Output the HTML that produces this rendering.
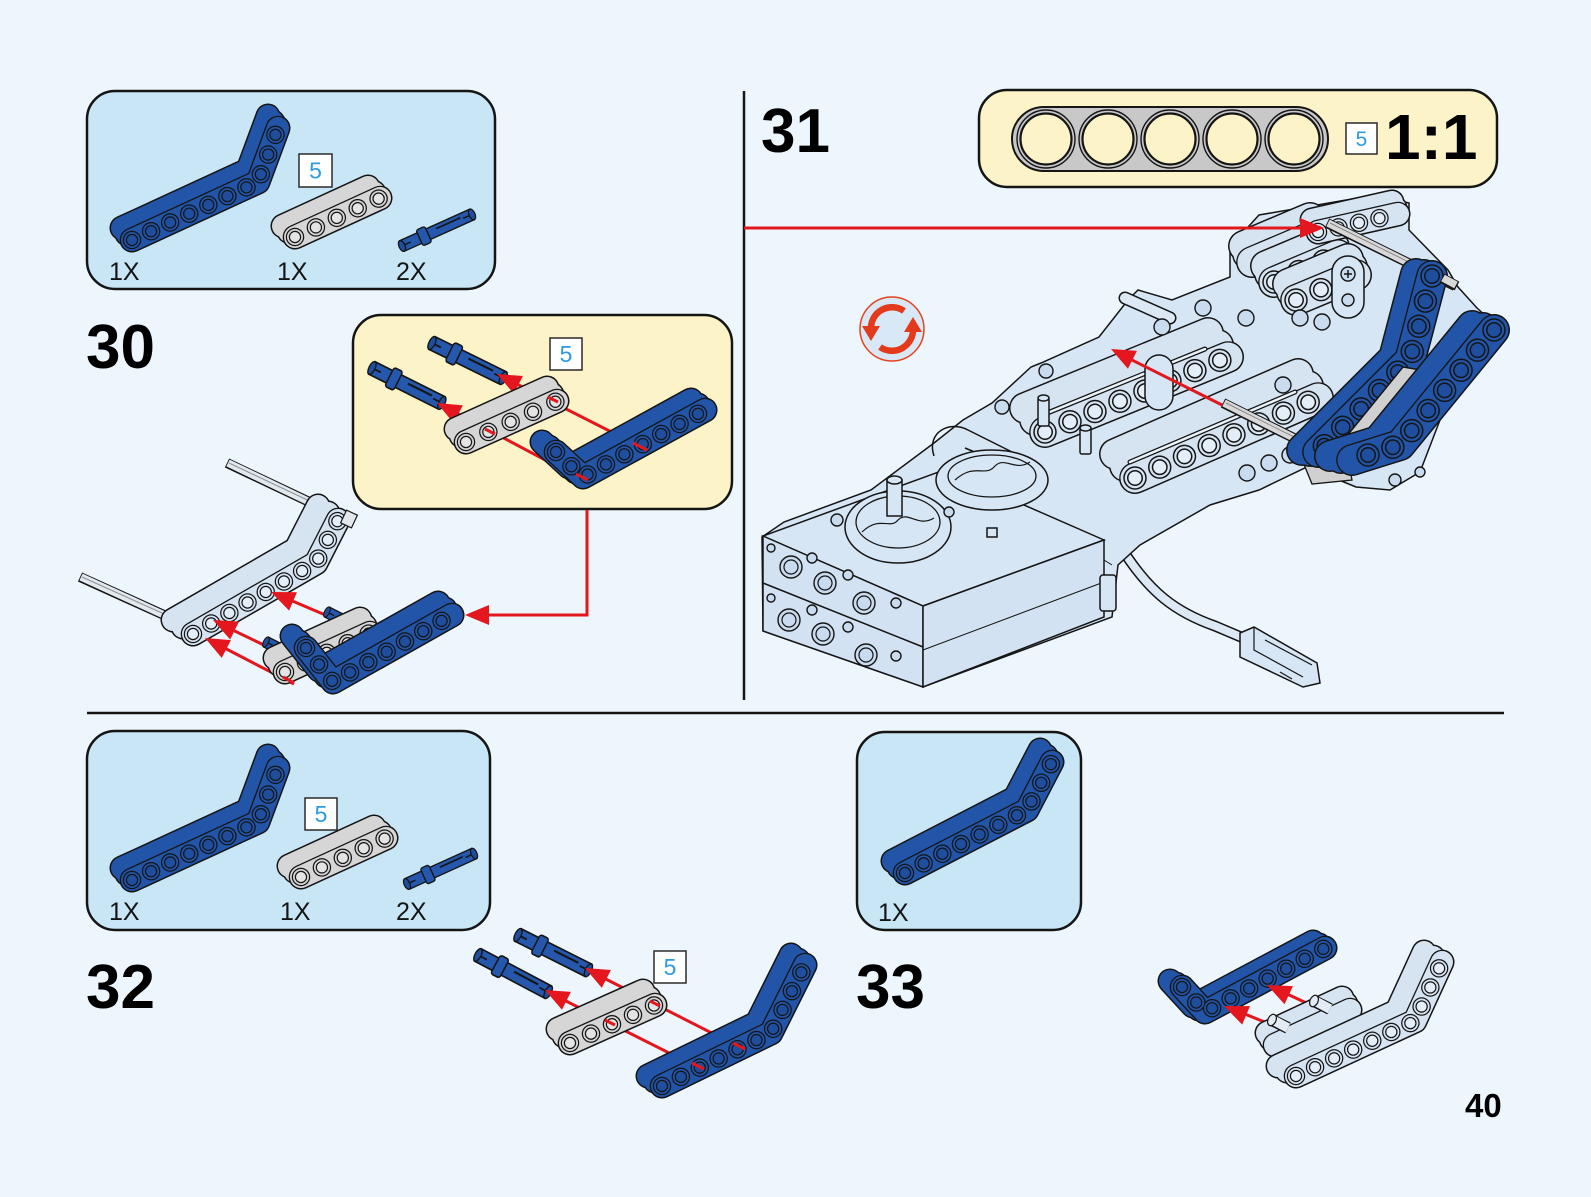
<!DOCTYPE html>
<html><head><meta charset="utf-8">
<style>
html,body{margin:0;padding:0;background:#eef6fd;overflow:hidden}
svg{display:block}
text{font-family:"Liberation Sans",Arial,sans-serif}
.bm use{fill:none;stroke-linecap:round;stroke-linejoin:round}
.o{stroke:#151515;stroke-width:25}
.f{stroke-width:22}
.fo{stroke:#151515;stroke-width:24.6}
.h1{stroke:#151515;stroke-width:18.5;stroke-dasharray:0 var(--s,21)}
.h2{stroke-width:16;stroke-dasharray:0 var(--s,21)}
.h3{stroke:#151515;stroke-width:12.4;stroke-dasharray:0 var(--s,21)}
.h4{stroke-width:10;stroke-dasharray:0 var(--s,21)}
.L .o{stroke-width:32}
.L .f{stroke-width:29}
.L .fo{stroke-width:31.6}
.L .h1{stroke-width:23.5;stroke-dasharray:0 var(--s,27)}
.L .h2{stroke-width:20.5;stroke-dasharray:0 var(--s,27)}
.L .h3{stroke-width:16;stroke-dasharray:0 var(--s,27)}
.L .h4{stroke-width:13;stroke-dasharray:0 var(--s,27)}
.B .f,.B .h2{stroke:#2254a8}
.B .h4{stroke:#1f4e9f}
.G .f,.G .h2{stroke:#d6d6d6}
.G .h4{stroke:#e4e4e4}
.P .f,.P .h2{stroke:#d6e4f2}
.P .h4{stroke:#e4eef8}
.rl{stroke:#e3171d;stroke-width:3;fill:none}
.pl{fill:#d7e6f5;stroke:#151515;stroke-width:1.5}
.hl{fill:#c9dbee;stroke:#151515;stroke-width:1.4}
</style></head>
<body>
<svg width="1591" height="1197" viewBox="0 0 1591 1197" xmlns="http://www.w3.org/2000/svg">
<rect width="1591" height="1197" fill="#eef6fd"/>
<defs>
<polyline id="b30p" points="132,240 258,182 278,128"/>
<polyline id="g30p" points="295,237 380,198"/>
<polyline id="b32p" points="132,880 258,822 278,768"/>
<polyline id="g32p" points="301,877 386,838"/>
<polyline id="b33p" points="905,873 1027,810 1052,762"/>
<polyline id="c30g" points="466,442 557,401"/>
<polyline id="c30b" points="556,452 583,477 705,410"/>
<polyline id="a30l" points="193,634 316,563 338,520"/>
<polyline id="a30g" points="285,672 370,633"/>
<polyline id="a30b" points="306,648 333,682 452,615"/>
<polyline id="s32g" points="570,1043 655,1005"/>
<polyline id="s32b" points="662,1086 771,1033 805,965"/>
<polyline id="s33b" points="1182,987 1205,1012 1325,948"/>
<polyline id="s33g" points="1275,1045 1350,1010"/>
<polyline id="s33l" points="1296,1076 1415,1021 1442,962"/>
<polyline id="slA" points="1045,432 1228,357"/>
<polyline id="slB" points="1135,478 1318,398"/>
<polyline id="clb" points="1318,232 1398,214"/>
<polyline id="cA" points="1252,262 1318,234"/>
<polyline id="cB" points="1274,282 1338,255"/>
<polyline id="cC" points="1296,300 1356,275"/>
<polyline id="bl1" points="1432,276 1410,360 1318,452"/>
<polyline id="bl2" points="1494,330 1400,445 1352,460"/>
<path id="ah" d="M0,0 L24,-10 L24,10 Z" fill="#e3171d"/>
<g id="pin">
<rect x="0" y="-5" width="64" height="10" fill="#2558ad" stroke="#151515" stroke-width="1.2"/>
<rect x="16" y="-7.5" width="8" height="15" rx="2" fill="#2558ad" stroke="#151515" stroke-width="1.2"/>
<line x1="32" y1="-1.5" x2="54" y2="-1.5" stroke="#151515" stroke-width="1.5"/>
<line x1="0" y1="0" x2="8" y2="0" stroke="#151515" stroke-width="1.3"/>
<line x1="56" y1="0" x2="64" y2="0" stroke="#151515" stroke-width="1.3"/>
<ellipse cx="64" cy="0" rx="2.5" ry="5" fill="#1f4e9f" stroke="#151515" stroke-width="1.1"/>
<ellipse cx="0" cy="0" rx="2.5" ry="5" fill="#1f4e9f" stroke="#151515" stroke-width="1.1"/>
</g>
</defs>

<!-- dividers -->
<line x1="744" y1="91" x2="744" y2="700" stroke="#151515" stroke-width="2.5"/>
<line x1="87" y1="713" x2="1504" y2="713" stroke="#151515" stroke-width="2.5"/>

<!-- ===== STEP 30 parts box ===== -->
<rect x="87" y="91" width="408" height="198" rx="28" fill="#c8e6f5" stroke="#151515" stroke-width="2.5"/>
<g class="bm B"><use href="#b30p" class="o" x="-10" y="-12"/><use href="#b30p" class="o" x="-5" y="-6"/><use href="#b30p" class="o"/><use href="#b30p" class="f" x="-10" y="-12"/><use href="#b30p" class="f" x="-5" y="-6"/><use href="#b30p" class="f"/><use href="#b30p" class="fo"/><use href="#b30p" class="f"/><use href="#b30p" class="h1"/><use href="#b30p" class="h2"/><use href="#b30p" class="h3"/><use href="#b30p" class="h4"/></g>
<g class="bm G" style="--s:23"><use href="#g30p" class="o" x="-12" y="-11"/><use href="#g30p" class="o" x="-6" y="-5.5"/><use href="#g30p" class="o"/><use href="#g30p" class="f" x="-12" y="-11"/><use href="#g30p" class="f" x="-6" y="-5.5"/><use href="#g30p" class="f"/><use href="#g30p" class="fo"/><use href="#g30p" class="f"/><use href="#g30p" class="h1"/><use href="#g30p" class="h2"/><use href="#g30p" class="h3"/><use href="#g30p" class="h4"/></g>
<use href="#pin" transform="translate(402,246) rotate(-24.3) scale(1.2,1.15)"/>
<rect x="299" y="154" width="33" height="33" fill="#fff" stroke="#2a2a2a" stroke-width="1.5"/>
<text x="315.5" y="178.5" font-size="23" fill="#2d9be0" text-anchor="middle">5</text>
<text x="109" y="280" font-size="25" fill="#151515">1X</text>
<text x="277" y="280" font-size="25" fill="#151515">1X</text>
<text x="396" y="280" font-size="25" fill="#151515">2X</text>

<text x="86" y="368" font-size="62" font-weight="bold" fill="#000">30</text>

<!-- ===== STEP 30 callout ===== -->
<rect x="353" y="315" width="379" height="194" rx="28" fill="#fdf3c8" stroke="#151515" stroke-width="2.5"/>
<use href="#pin" transform="translate(432,343) rotate(26.2) scale(1.24,1.4)"/>
<use href="#pin" transform="translate(372,368) rotate(26.6) scale(1.22,1.4)"/>
<line class="rl" x1="647" y1="450" x2="505" y2="378"/>
<line class="rl" x1="583" y1="480" x2="445" y2="407"/>
<use href="#ah" transform="translate(497,374) rotate(26.9)"/>
<use href="#ah" transform="translate(437,403) rotate(27.8)"/>
<g class="bm G" style="--s:24.5"><use href="#c30g" class="o" x="-10" y="-13"/><use href="#c30g" class="o" x="-5" y="-6.5"/><use href="#c30g" class="o"/><use href="#c30g" class="f" x="-10" y="-13"/><use href="#c30g" class="f" x="-5" y="-6.5"/><use href="#c30g" class="f"/><use href="#c30g" class="fo"/><use href="#c30g" class="f"/><use href="#c30g" class="h1"/><use href="#c30g" class="h2"/><use href="#c30g" class="h3"/><use href="#c30g" class="h4"/></g>
<g class="bm B"><use href="#c30b" class="o" x="-14" y="-10"/><use href="#c30b" class="o" x="-7" y="-5"/><use href="#c30b" class="o"/><use href="#c30b" class="f" x="-14" y="-10"/><use href="#c30b" class="f" x="-7" y="-5"/><use href="#c30b" class="f"/><use href="#c30b" class="fo"/><use href="#c30b" class="f"/><use href="#c30b" class="h1"/><use href="#c30b" class="h2"/><use href="#c30b" class="h3"/><use href="#c30b" class="h4"/></g>
<line class="rl" x1="633" y1="443" x2="647" y2="450"/>
<line class="rl" x1="576" y1="474" x2="588" y2="480"/>
<line class="rl" x1="548" y1="397" x2="558" y2="402"/>
<line class="rl" x1="485" y1="429" x2="495" y2="434"/>
<rect x="550" y="338" width="32" height="32" fill="#fff" stroke="#2a2a2a" stroke-width="1.5"/>
<text x="566" y="362" font-size="23" fill="#2d9be0" text-anchor="middle">5</text>

<!-- ===== STEP 30 assembly ===== -->
<g>
<line x1="227" y1="463" x2="320" y2="507" stroke="#151515" stroke-width="10"/>
<line x1="228" y1="463" x2="320" y2="507" stroke="#e2e8ee" stroke-width="7.5"/>
<line x1="229" y1="463" x2="318" y2="505" stroke="#8a9098" stroke-width="1"/>
<line x1="80" y1="577" x2="175" y2="620" stroke="#151515" stroke-width="10"/>
<line x1="81" y1="577" x2="175" y2="620" stroke="#e2e8ee" stroke-width="7.5"/>
<line x1="82" y1="577" x2="173" y2="618" stroke="#8a9098" stroke-width="1"/>
</g>
<g class="bm P"><use href="#a30l" class="o" x="-20" y="-14"/><use href="#a30l" class="o" x="-10" y="-7"/><use href="#a30l" class="o"/><use href="#a30l" class="f" x="-20" y="-14"/><use href="#a30l" class="f" x="-10" y="-7"/><use href="#a30l" class="f"/><use href="#a30l" class="fo"/><use href="#a30l" class="f"/><use href="#a30l" class="h1"/><use href="#a30l" class="h2"/><use href="#a30l" class="h3"/><use href="#a30l" class="h4"/></g>
<rect x="343" y="512" width="12" height="14" fill="#e2e8ee" stroke="#151515" stroke-width="1.2" transform="rotate(25 349 519)"/>
<line class="rl" x1="330" y1="617" x2="276" y2="594"/>
<line class="rl" x1="268" y1="647" x2="218" y2="623"/>
<line class="rl" x1="294" y1="684" x2="211" y2="641"/>
<use href="#ah" transform="translate(271,592) rotate(23.3)"/>
<use href="#ah" transform="translate(213,620) rotate(26.1)"/>
<use href="#ah" transform="translate(205,638) rotate(27.3)"/>
<use href="#pin" transform="translate(327,612) rotate(27) scale(1,1.1)"/>
<use href="#pin" transform="translate(266,642) rotate(27) scale(1,1.1)"/>
<g class="bm G" style="--s:23"><use href="#a30g" class="o" x="-10" y="-14"/><use href="#a30g" class="o" x="-5" y="-7"/><use href="#a30g" class="o"/><use href="#a30g" class="f" x="-10" y="-14"/><use href="#a30g" class="f" x="-5" y="-7"/><use href="#a30g" class="f"/><use href="#a30g" class="fo"/><use href="#a30g" class="f"/><use href="#a30g" class="h1"/><use href="#a30g" class="h2"/><use href="#a30g" class="h3"/><use href="#a30g" class="h4"/></g>
<line class="rl" x1="283" y1="677" x2="294" y2="683"/>
<g class="bm B"><use href="#a30b" class="o" x="-14" y="-12"/><use href="#a30b" class="o" x="-7" y="-6"/><use href="#a30b" class="o"/><use href="#a30b" class="f" x="-14" y="-12"/><use href="#a30b" class="f" x="-7" y="-6"/><use href="#a30b" class="f"/><use href="#a30b" class="fo"/><use href="#a30b" class="f"/><use href="#a30b" class="h1"/><use href="#a30b" class="h2"/><use href="#a30b" class="h3"/><use href="#a30b" class="h4"/></g>
<polyline class="rl" points="587,510 587,615 480,615"/>
<use href="#ah" transform="translate(465,615)"/>

<!-- ===== STEP 31 ===== -->
<text x="761" y="152" font-size="62" font-weight="bold" fill="#000">31</text>
<rect x="979" y="90" width="518" height="97" rx="28" fill="#fdf3c8" stroke="#151515" stroke-width="2.5"/>
<rect x="1012" y="107" width="316" height="64" rx="32" fill="#c8c8c8" stroke="#151515" stroke-width="2"/>
<g stroke="#151515">
<circle cx="1046" cy="139" r="29" fill="#c8c8c8" stroke-width="1.4"/><circle cx="1046" cy="139" r="25.5" fill="#fdf3c8" stroke-width="2.2"/>
<circle cx="1108" cy="139" r="29" fill="#c8c8c8" stroke-width="1.4"/><circle cx="1108" cy="139" r="25.5" fill="#fdf3c8" stroke-width="2.2"/>
<circle cx="1170" cy="139" r="29" fill="#c8c8c8" stroke-width="1.4"/><circle cx="1170" cy="139" r="25.5" fill="#fdf3c8" stroke-width="2.2"/>
<circle cx="1232" cy="139" r="29" fill="#c8c8c8" stroke-width="1.4"/><circle cx="1232" cy="139" r="25.5" fill="#fdf3c8" stroke-width="2.2"/>
<circle cx="1294" cy="139" r="29" fill="#c8c8c8" stroke-width="1.4"/><circle cx="1294" cy="139" r="25.5" fill="#fdf3c8" stroke-width="2.2"/>
</g>
<rect x="1346" y="123" width="31" height="31" fill="#fff" stroke="#2a2a2a" stroke-width="1.5"/>
<text x="1361.5" y="146" font-size="21" fill="#2d9be0" text-anchor="middle">5</text>
<text x="1385" y="159" font-size="64" font-weight="bold" fill="#000">1:1</text>

<!-- cable -->
<path d="M1124,552 C1150,592 1175,612 1215,626 L1248,640" fill="none" stroke="#151515" stroke-width="11"/>
<path d="M1124,552 C1150,592 1175,612 1215,626 L1248,640" fill="none" stroke="#dce8f4" stroke-width="8"/>

<!-- envelope -->
<polygon class="pl" points="762,537 784,522 871,490 934,443 963,420 992,403 1031,367 1041,363 1099,337 1128,300 1138,290 1172,300 1230,277 1230,247 1259,215 1375,195 1409,203 1409,230 1448,270 1458,287 1477,308 1488,318 1440,420 1420,472 1390,490 1356,487 1307,467 1259,490 1210,505 1140,545 1118,565 1112,617 923,687 763,631"/>

<!-- cluster -->
<g class="bm P L"><use href="#cA" class="o" x="-8" y="-16"/><use href="#cA" class="o" x="-4" y="-8"/><use href="#cA" class="o"/><use href="#cA" class="f" x="-8" y="-16"/><use href="#cA" class="f" x="-4" y="-8"/><use href="#cA" class="f"/><use href="#cA" class="fo"/><use href="#cA" class="f"/></g>
<g class="bm P L"><use href="#cB" class="o" x="-8" y="-16"/><use href="#cB" class="o" x="-4" y="-8"/><use href="#cB" class="o"/><use href="#cB" class="f" x="-8" y="-16"/><use href="#cB" class="f" x="-4" y="-8"/><use href="#cB" class="f"/><use href="#cB" class="fo"/><use href="#cB" class="f"/><use href="#cB" class="h1"/><use href="#cB" class="h2"/><use href="#cB" class="h3"/><use href="#cB" class="h4"/></g>
<g class="bm P"><use href="#clb" class="o" x="-6" y="-12"/><use href="#clb" class="o" x="-3" y="-6"/><use href="#clb" class="o"/><use href="#clb" class="f" x="-6" y="-12"/><use href="#clb" class="f" x="-3" y="-6"/><use href="#clb" class="f"/><use href="#clb" class="fo"/><use href="#clb" class="f"/><use href="#clb" class="h1"/><use href="#clb" class="h2"/><use href="#clb" class="h3"/><use href="#clb" class="h4"/></g>
<g class="bm P L"><use href="#cC" class="o" x="-8" y="-16"/><use href="#cC" class="o" x="-4" y="-8"/><use href="#cC" class="o"/><use href="#cC" class="f" x="-8" y="-16"/><use href="#cC" class="f" x="-4" y="-8"/><use href="#cC" class="f"/><use href="#cC" class="fo"/><use href="#cC" class="f"/><use href="#cC" class="h1"/><use href="#cC" class="h2"/><use href="#cC" class="h3"/><use href="#cC" class="h4"/></g>
<rect class="pl" x="1332" y="256" width="32" height="62" rx="16"/>
<circle class="hl" cx="1348" cy="274" r="7"/>
<path d="M1344,274 h8 M1348,270 v8" stroke="#151515" stroke-width="1.5"/>
<circle class="hl" cx="1348" cy="300" r="6"/>
<g class="hl">
<circle cx="1300" cy="318" r="8"/><circle cx="1322" cy="322" r="8"/>
</g>
<!-- axle 1 -->
<line x1="1327" y1="223" x2="1455" y2="286" stroke="#151515" stroke-width="10"/>
<line x1="1328" y1="223" x2="1455" y2="286" stroke="#d8d8d8" stroke-width="7.5"/>
<line x1="1330" y1="223" x2="1453" y2="284" stroke="#888" stroke-width="1"/>
<!-- pin top-left -->
<line x1="1125" y1="298" x2="1170" y2="318" stroke="#151515" stroke-width="13" stroke-linecap="round"/>
<line x1="1125" y1="298" x2="1170" y2="318" stroke="#dce8f4" stroke-width="10" stroke-linecap="round"/>

<!-- slabs -->
<g class="bm P L"><use href="#slA" class="o" x="-20" y="-24"/><use href="#slA" class="o" x="-10" y="-12"/><use href="#slA" class="o"/><use href="#slA" class="f" x="-20" y="-24"/><use href="#slA" class="f" x="-10" y="-12"/><use href="#slA" class="f"/><use href="#slA" class="fo"/><use href="#slA" class="f"/><use href="#slA" class="h1"/><use href="#slA" class="h2"/><use href="#slA" class="h3"/><use href="#slA" class="h4"/></g>
<line x1="1040" y1="416" x2="1205" y2="349" stroke="#151515" stroke-width="5" stroke-linecap="round"/>
<line x1="1040" y1="416" x2="1205" y2="349" stroke="#eaf2fa" stroke-width="2.5" stroke-linecap="round"/>
<g class="bm P L"><use href="#slB" class="o" x="-20" y="-24"/><use href="#slB" class="o" x="-10" y="-12"/><use href="#slB" class="o"/><use href="#slB" class="f" x="-20" y="-24"/><use href="#slB" class="f" x="-10" y="-12"/><use href="#slB" class="f"/><use href="#slB" class="fo"/><use href="#slB" class="f"/><use href="#slB" class="h1"/><use href="#slB" class="h2"/><use href="#slB" class="h3"/><use href="#slB" class="h4"/></g>
<line x1="1130" y1="462" x2="1295" y2="392" stroke="#151515" stroke-width="5" stroke-linecap="round"/>
<line x1="1130" y1="462" x2="1295" y2="392" stroke="#eaf2fa" stroke-width="2.5" stroke-linecap="round"/>
<g class="hl">
<circle cx="1162" cy="327" r="8"/><circle cx="1203" cy="308" r="8"/><circle cx="1246" cy="318" r="8"/>
<circle cx="1283" cy="385" r="8"/><circle cx="1247" cy="473" r="8"/><circle cx="1269" cy="463" r="8"/><circle cx="1290" cy="455" r="8"/>
<circle cx="1002" cy="407" r="7"/><circle cx="1046" cy="371" r="7"/>
</g>
<rect class="pl" x="1145" y="355" width="28" height="55" rx="14"/>
<rect class="pl" x="1038" y="398" width="11" height="28" rx="2"/>
<ellipse class="pl" cx="1043.5" cy="398" rx="5.5" ry="3"/>
<rect class="pl" x="1080" y="428" width="11" height="26" rx="2"/>
<ellipse class="pl" cx="1085.5" cy="428" rx="5.5" ry="3"/>
<path d="M934,456 C926,432 950,420 968,430 L1012,452 L1008,466 L965,448" fill="none" stroke="#151515" stroke-width="1.5"/>

<!-- box -->
<polygon class="pl" points="763,536 923,606 1104,540 944,470"/>
<polygon class="pl" points="763,536 923,606 923,687 763,631" style="fill:#d2e2f2"/>
<polygon class="pl" points="923,606 1104,540 1104,617 923,687" style="fill:#d2e2f2"/>
<line x1="763" y1="583" x2="923" y2="647" stroke="#151515" stroke-width="1.5"/>
<line x1="923" y1="650" x2="1104" y2="582" stroke="#151515" stroke-width="1"/>
<line x1="1104" y1="560" x2="1112" y2="565" stroke="#151515" stroke-width="1"/>
<g class="hl">
<circle cx="791" cy="567" r="11"/><circle cx="825" cy="583" r="11"/><circle cx="864" cy="603" r="11"/>
<circle cx="789" cy="620" r="11"/><circle cx="823" cy="634" r="11"/><circle cx="866" cy="655" r="11"/>
</g>
<g fill="none" stroke="#151515" stroke-width="1.2">
<circle cx="791" cy="567" r="7"/><circle cx="825" cy="583" r="7"/><circle cx="864" cy="603" r="7"/>
<circle cx="789" cy="620" r="7"/><circle cx="823" cy="634" r="7"/><circle cx="866" cy="655" r="7"/>
</g>
<g class="hl">
<circle cx="812" cy="558" r="5"/><circle cx="848" cy="575" r="5"/><circle cx="896" cy="603" r="5"/>
<circle cx="812" cy="610" r="5"/><circle cx="848" cy="627" r="5"/><circle cx="896" cy="656" r="5"/>
<circle cx="771" cy="548" r="4"/><circle cx="771" cy="598" r="4"/>
</g>
<ellipse class="pl" cx="898" cy="527" rx="53" ry="36"/>
<ellipse cx="898" cy="522" rx="42" ry="26" fill="none" stroke="#151515" stroke-width="1.3"/>
<path d="M862,532 C880,515 890,530 898,520 C908,510 918,528 934,518" fill="none" stroke="#151515" stroke-width="1.2"/>
<rect class="pl" x="887" y="480" width="15" height="36"/>
<ellipse class="pl" cx="894.5" cy="480" rx="7.5" ry="4"/>
<ellipse class="pl" cx="992" cy="480" rx="56" ry="30"/>
<ellipse cx="992" cy="476" rx="44" ry="21" fill="none" stroke="#151515" stroke-width="1.3"/>
<path d="M955,480 C975,462 985,478 995,466 C1005,456 1015,472 1030,462" fill="none" stroke="#151515" stroke-width="1.2"/>
<circle class="hl" cx="949" cy="512" r="5"/>
<rect class="pl" x="987" y="528" width="10" height="9"/>
<circle class="hl" cx="837" cy="520" r="6"/>
<rect class="pl" x="1100" y="575" width="16" height="36" rx="3"/>

<!-- connector -->
<polygon class="pl" points="1240,633 1254,627 1317,663 1320,683 1303,687 1240,657"/>
<path d="M1254,627 L1254,650 L1303,677 M1265,640 L1312,665 M1280,672 L1292,679" fill="none" stroke="#151515" stroke-width="1.2"/>

<!-- axle 2 -->
<line x1="1223" y1="403" x2="1314" y2="448" stroke="#151515" stroke-width="10"/>
<line x1="1224" y1="403" x2="1314" y2="448" stroke="#d8d8d8" stroke-width="7.5"/>
<line x1="1226" y1="403" x2="1312" y2="446" stroke="#888" stroke-width="1"/>

<!-- blue beams -->
<polygon points="1303,462 1346,450 1352,480 1312,484" fill="#d0d0d0" stroke="#151515" stroke-width="1.3"/>
<g class="bm B L" style="--s:26"><use href="#bl1" class="o" x="-16" y="-2"/><use href="#bl1" class="o" x="-8" y="-1"/><use href="#bl1" class="o"/><use href="#bl1" class="f" x="-16" y="-2"/><use href="#bl1" class="f" x="-8" y="-1"/><use href="#bl1" class="f"/><use href="#bl1" class="fo"/><use href="#bl1" class="f"/><use href="#bl1" class="h1"/><use href="#bl1" class="h2"/><use href="#bl1" class="h3"/><use href="#bl1" class="h4"/></g>
<polygon points="1346,437 1403,367 1421,370 1367,443" fill="#d0d0d0" stroke="#151515" stroke-width="1.5"/>
<g class="bm B L" style="--s:26"><use href="#bl2" class="o" x="-22" y="-4"/><use href="#bl2" class="o" x="-11" y="-2"/><use href="#bl2" class="o"/><use href="#bl2" class="f" x="-22" y="-4"/><use href="#bl2" class="f" x="-11" y="-2"/><use href="#bl2" class="f"/><use href="#bl2" class="fo"/><use href="#bl2" class="f"/><use href="#bl2" class="h1"/><use href="#bl2" class="h2"/><use href="#bl2" class="h3"/><use href="#bl2" class="h4"/></g>
<line x1="1442" y1="278" x2="1457" y2="286" stroke="#151515" stroke-width="10"/>
<line x1="1443" y1="278" x2="1456" y2="285" stroke="#d8d8d8" stroke-width="7.5"/>
<g class="hl"><circle cx="1395" cy="480" r="6"/><circle cx="1420" cy="472" r="5"/></g>

<!-- step 31 arrows -->
<line class="rl" x1="744" y1="228" x2="1304" y2="228"/>
<use href="#ah" transform="translate(1324,228) rotate(180)"/>
<line class="rl" x1="1222" y1="405" x2="1128" y2="358"/>
<use href="#ah" transform="translate(1111,349) rotate(26.8)"/>

<!-- rotate icon -->
<circle cx="892" cy="329" r="32" fill="#d8e8f6" stroke="#e5421e" stroke-width="1.5"/>
<path d="M904,311 A21,21 0 0 0 871,329" fill="none" stroke="#e23a1a" stroke-width="6.5"/>
<path d="M862,326 L880,326 L871,341 Z" fill="#e23a1a"/>
<path d="M880,347 A21,21 0 0 0 913,329" fill="none" stroke="#e23a1a" stroke-width="6.5"/>
<path d="M904,332 L922,332 L913,317 Z" fill="#e23a1a"/>

<!-- ===== STEP 32 parts box ===== -->
<rect x="87" y="731" width="403" height="199" rx="28" fill="#c8e6f5" stroke="#151515" stroke-width="2.5"/>
<g class="bm B"><use href="#b32p" class="o" x="-10" y="-12"/><use href="#b32p" class="o" x="-5" y="-6"/><use href="#b32p" class="o"/><use href="#b32p" class="f" x="-10" y="-12"/><use href="#b32p" class="f" x="-5" y="-6"/><use href="#b32p" class="f"/><use href="#b32p" class="fo"/><use href="#b32p" class="f"/><use href="#b32p" class="h1"/><use href="#b32p" class="h2"/><use href="#b32p" class="h3"/><use href="#b32p" class="h4"/></g>
<g class="bm G" style="--s:23"><use href="#g32p" class="o" x="-12" y="-11"/><use href="#g32p" class="o" x="-6" y="-5.5"/><use href="#g32p" class="o"/><use href="#g32p" class="f" x="-12" y="-11"/><use href="#g32p" class="f" x="-6" y="-5.5"/><use href="#g32p" class="f"/><use href="#g32p" class="fo"/><use href="#g32p" class="f"/><use href="#g32p" class="h1"/><use href="#g32p" class="h2"/><use href="#g32p" class="h3"/><use href="#g32p" class="h4"/></g>
<use href="#pin" transform="translate(407,884) rotate(-24.4) scale(1.15,1.15)"/>
<rect x="305" y="798" width="32" height="32" fill="#fff" stroke="#2a2a2a" stroke-width="1.5"/>
<text x="321" y="822" font-size="23" fill="#2d9be0" text-anchor="middle">5</text>
<text x="109" y="920" font-size="25" fill="#151515">1X</text>
<text x="280" y="920" font-size="25" fill="#151515">1X</text>
<text x="396" y="920" font-size="25" fill="#151515">2X</text>
<text x="86" y="1008" font-size="62" font-weight="bold" fill="#000">32</text>

<!-- ===== STEP 32 assembly ===== -->
<use href="#pin" transform="translate(518,935) rotate(26.6) scale(1.23,1.4)"/>
<use href="#pin" transform="translate(478,955) rotate(27.9) scale(1.24,1.4)"/>
<line class="rl" x1="745" y1="1050" x2="592" y2="972"/>
<line class="rl" x1="705" y1="1071" x2="552" y2="994"/>
<use href="#ah" transform="translate(585,968) rotate(27.1)"/>
<use href="#ah" transform="translate(545,990) rotate(26.7)"/>
<g class="bm G" style="--s:23"><use href="#s32g" class="o" x="-12" y="-14"/><use href="#s32g" class="o" x="-6" y="-7"/><use href="#s32g" class="o"/><use href="#s32g" class="f" x="-12" y="-14"/><use href="#s32g" class="f" x="-6" y="-7"/><use href="#s32g" class="f"/><use href="#s32g" class="fo"/><use href="#s32g" class="f"/><use href="#s32g" class="h1"/><use href="#s32g" class="h2"/><use href="#s32g" class="h3"/><use href="#s32g" class="h4"/></g>
<g class="bm B"><use href="#s32b" class="o" x="-14" y="-10"/><use href="#s32b" class="o" x="-7" y="-5"/><use href="#s32b" class="o"/><use href="#s32b" class="f" x="-14" y="-10"/><use href="#s32b" class="f" x="-7" y="-5"/><use href="#s32b" class="f"/><use href="#s32b" class="fo"/><use href="#s32b" class="f"/><use href="#s32b" class="h1"/><use href="#s32b" class="h2"/><use href="#s32b" class="h3"/><use href="#s32b" class="h4"/></g>
<line class="rl" x1="692" y1="1063" x2="704" y2="1069"/>
<line class="rl" x1="733" y1="1043" x2="745" y2="1049"/>
<line class="rl" x1="650" y1="1001" x2="660" y2="1006"/>
<line class="rl" x1="605" y1="1020" x2="615" y2="1025"/>
<rect x="654" y="951" width="32" height="32" fill="#fff" stroke="#2a2a2a" stroke-width="1.5"/>
<text x="670" y="975" font-size="23" fill="#2d9be0" text-anchor="middle">5</text>

<!-- ===== STEP 33 parts box ===== -->
<rect x="857" y="732" width="224" height="198" rx="28" fill="#c8e6f5" stroke="#151515" stroke-width="2.5"/>
<g class="bm B"><use href="#b33p" class="o" x="-12" y="-12"/><use href="#b33p" class="o" x="-6" y="-6"/><use href="#b33p" class="o"/><use href="#b33p" class="f" x="-12" y="-12"/><use href="#b33p" class="f" x="-6" y="-6"/><use href="#b33p" class="f"/><use href="#b33p" class="fo"/><use href="#b33p" class="f"/><use href="#b33p" class="h1"/><use href="#b33p" class="h2"/><use href="#b33p" class="h3"/><use href="#b33p" class="h4"/></g>
<text x="878" y="921" font-size="25" fill="#151515">1X</text>
<text x="856" y="1008" font-size="62" font-weight="bold" fill="#000">33</text>

<!-- ===== STEP 33 assembly ===== -->
<g class="bm B"><use href="#s33b" class="o" x="-12" y="-6"/><use href="#s33b" class="o" x="-6" y="-3"/><use href="#s33b" class="o"/><use href="#s33b" class="f" x="-12" y="-6"/><use href="#s33b" class="f" x="-6" y="-3"/><use href="#s33b" class="f"/><use href="#s33b" class="fo"/><use href="#s33b" class="f"/><use href="#s33b" class="h1"/><use href="#s33b" class="h2"/><use href="#s33b" class="h3"/><use href="#s33b" class="h4"/></g>
<line class="rl" x1="1313" y1="1006" x2="1274" y2="988"/>
<line class="rl" x1="1272" y1="1025" x2="1230" y2="1008"/>
<use href="#ah" transform="translate(1267,985) rotate(25)"/>
<use href="#ah" transform="translate(1224,1006) rotate(23)"/>
<g class="bm P"><use href="#s33g" class="o" x="-8" y="-12"/><use href="#s33g" class="o" x="-4" y="-6"/><use href="#s33g" class="o"/><use href="#s33g" class="f" x="-8" y="-12"/><use href="#s33g" class="f" x="-4" y="-6"/><use href="#s33g" class="f"/><use href="#s33g" class="fo"/><use href="#s33g" class="f"/></g>
<g>
<line x1="1272" y1="1020" x2="1288" y2="1028" stroke="#151515" stroke-width="12"/>
<line x1="1273" y1="1020" x2="1288" y2="1028" stroke="#e3ecf5" stroke-width="9.5"/>
<ellipse cx="1272" cy="1020" rx="4" ry="6" fill="#e3ecf5" stroke="#151515" stroke-width="1.2" transform="rotate(25 1272 1020)"/>
<line x1="1314" y1="1001" x2="1330" y2="1009" stroke="#151515" stroke-width="12"/>
<line x1="1315" y1="1001" x2="1330" y2="1009" stroke="#e3ecf5" stroke-width="9.5"/>
<ellipse cx="1314" cy="1001" rx="4" ry="6" fill="#e3ecf5" stroke="#151515" stroke-width="1.2" transform="rotate(25 1314 1001)"/>
</g>
<g class="bm P"><use href="#s33l" class="o" x="-18" y="-10"/><use href="#s33l" class="o" x="-9" y="-5"/><use href="#s33l" class="o"/><use href="#s33l" class="f" x="-18" y="-10"/><use href="#s33l" class="f" x="-9" y="-5"/><use href="#s33l" class="f"/><use href="#s33l" class="fo"/><use href="#s33l" class="f"/><use href="#s33l" class="h1"/><use href="#s33l" class="h2"/><use href="#s33l" class="h3"/><use href="#s33l" class="h4"/></g>

<!-- page number -->
<text x="1465" y="1117" font-size="33" font-weight="bold" fill="#000">40</text>
</svg>
</body></html>
